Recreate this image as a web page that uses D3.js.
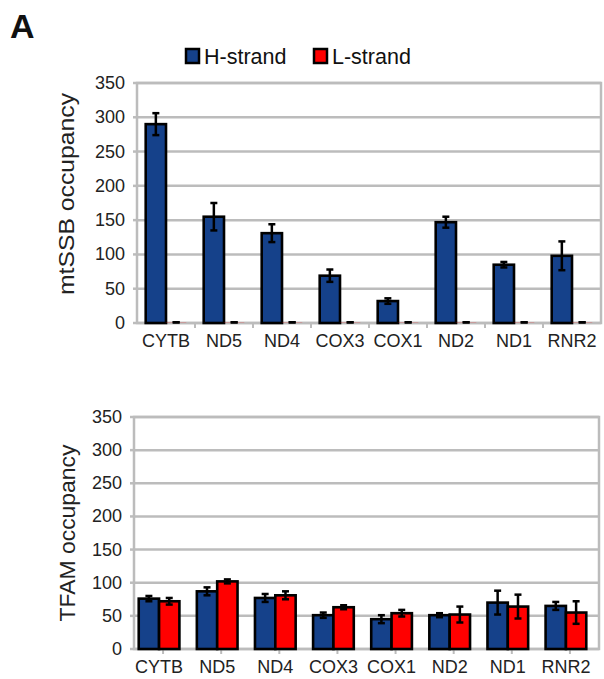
<!DOCTYPE html>
<html>
<head>
<meta charset="utf-8">
<script src="https://cdn.jsdelivr.net/npm/d3@7"></script>
<style>
  body { margin: 0; background: #fff; }
  svg { display: block; font-family: "Liberation Sans", Arial, sans-serif; }
</style>
</head>
<body>
<div id="fig"></div>
<script>
// data
const genes = ["CYTB", "ND5", "ND4", "COX3", "COX1", "ND2", "ND1", "RNR2"];
const strands = ["H-strand", "L-strand"];
const yTicks = [0, 50, 100, 150, 200, 250, 300, 350];

const ssbH = [290, 155, 131, 69, 32, 147, 85, 98];
const ssbHerr = [16, 20, 13, 9, 4, 8, 4, 21];
const ssbL = [1, 1, 1, 1, 1, 1, 1, 1];
const ssbLerr = [0, 0, 0, 0, 0, 0, 0, 0];

const tfamH = [76, 87, 77, 51, 45, 51, 70, 65];
const tfamHerr = [4, 6, 6, 4, 6, 3, 18, 6];
const tfamL = [72, 102, 81, 63, 54, 52, 64, 55];
const tfamLerr = [5, 3, 6, 3, 5, 12, 18, 17];

const colors = { "H-strand": "#15418a", "L-strand": "#ff0000" };
const gridColor = "#bcbcbc";

const svg = d3.select("#fig").append("svg")
  .attr("width", 604)
  .attr("height", 679);

// panel letter
svg.append("text")
  .attr("x", 10).attr("y", 38)
  .attr("font-size", 34).attr("font-weight", "bold")
  .attr("fill", "#111")
  .text("A");

// legend
const legend = svg.append("g");
[[185, "H-strand"], [313, "L-strand"]].forEach(([lx, s]) => {
  legend.append("rect")
    .attr("x", lx + 1).attr("y", 49).attr("width", 13).attr("height", 14)
    .attr("fill", colors[s]).attr("stroke", "#000").attr("stroke-width", 2.5);
  legend.append("text")
    .attr("x", lx + 19).attr("y", 64)
    .attr("font-size", 21.5).attr("fill", "#111")
    .text(s);
});

function panel(opts) {
  const { left, right, top, bottom, hVals, hErr, lVals, lErr, title, titleLen, shift, tickAt } = opts;
  const g = svg.append("g");

  const x = d3.scaleBand().domain(genes).range([left + shift, right + shift])
    .paddingInner(0.3).paddingOuter(0.15);
  const xs = d3.scaleBand().domain(strands).range([0, x.bandwidth()]);
  const y = d3.scaleLinear().domain([0, 350]).range([bottom, top]);

  // gridlines
  g.selectAll(".grid").data(yTicks).join("line")
    .attr("x1", left).attr("x2", right)
    .attr("y1", d => y(d)).attr("y2", d => y(d))
    .attr("stroke", gridColor).attr("stroke-width", 2.5);
  // frame
  g.append("rect")
    .attr("x", left).attr("y", top)
    .attr("width", right - left).attr("height", bottom - top)
    .attr("fill", "none").attr("stroke", gridColor).attr("stroke-width", 2.5);

  // y ticks
  g.selectAll(".yt").data(yTicks).join("line")
    .attr("x1", left - 4).attr("x2", left)
    .attr("y1", d => y(d)).attr("y2", d => y(d))
    .attr("stroke", gridColor).attr("stroke-width", 2.5);
  g.selectAll(".yl").data(yTicks).join("text")
    .attr("x", left - 12).attr("y", d => y(d) + 6)
    .attr("text-anchor", "end").attr("font-size", 18).attr("fill", "#222")
    .text(d => d);

  // x ticks
  const step = (right - left) / genes.length;
  const tickPos = tickAt === "edge"
    ? d3.range(1, genes.length).map(i => left + i * step)
    : genes.map((d, i) => left + (i + 0.5) * step);
  g.selectAll(".xt").data(tickPos).join("line")
    .attr("x1", d => d).attr("x2", d => d)
    .attr("y1", bottom).attr("y2", bottom + 5)
    .attr("stroke", gridColor).attr("stroke-width", 2);

  // x labels
  g.selectAll(".xl").data(genes).join("text")
    .attr("x", d => x(d) + x.bandwidth() / 2)
    .attr("y", bottom + 24)
    .attr("text-anchor", "middle").attr("font-size", 18).attr("fill", "#222")
    .text(d => d);

  // y title
  g.append("text")
    .attr("transform", `translate(${opts.titleX},${(top + bottom) / 2 - opts.titleOff}) rotate(-90)`)
    .attr("text-anchor", "middle").attr("font-size", 21.5).attr("fill", "#222")
    .attr("textLength", titleLen).attr("lengthAdjust", "spacingAndGlyphs")
    .text(title);

  // bars
  const rows = genes.flatMap((gene, i) => [
    { gene, s: "H-strand", v: hVals[i], e: hErr[i] },
    { gene, s: "L-strand", v: lVals[i], e: lErr[i] },
  ]);
  const cx = d => x(d.gene) + xs(d.s) + xs.bandwidth() / 2;
  g.selectAll(".bar").data(rows).join("rect")
    .attr("x", d => x(d.gene) + xs(d.s))
    .attr("y", d => y(d.v))
    .attr("width", xs.bandwidth())
    .attr("height", d => y(0) - y(d.v))
    .attr("fill", d => colors[d.s])
    .attr("opacity", d => (d.v > 3 ? 1 : 0.25))
    .attr("stroke", d => (d.v > 3 ? "#000" : "none")).attr("stroke-width", 2.6);

  // error bars (zero-error bars still show their cap as a dash)
  const eb = g.selectAll(".err").data(rows).join("g");
  eb.append("line")
    .attr("x1", cx).attr("x2", cx)
    .attr("y1", d => y(d.v + d.e)).attr("y2", d => y(d.v - d.e))
    .attr("stroke", "#000").attr("stroke-width", 2.5);
  [1, -1].forEach(sign => {
    eb.append("line")
      .attr("x1", d => cx(d) - 3.5)
      .attr("x2", d => cx(d) + 3.5)
      .attr("y1", d => y(d.v + sign * d.e)).attr("y2", d => y(d.v + sign * d.e))
      .attr("stroke", "#000").attr("stroke-width", 2.5);
  });
}

panel({
  left: 137, right: 601, top: 83, bottom: 323,
  hVals: ssbH, hErr: ssbHerr, lVals: ssbL, lErr: ssbLerr,
  title: "mtSSB  occupancy", titleLen: 202, titleX: 74, titleOff: 9,
  shift: 0, tickAt: "edge",
});

panel({
  left: 134, right: 599, top: 417, bottom: 649,
  hVals: tfamH, hErr: tfamHerr, lVals: tfamL, lErr: tfamLerr,
  title: "TFAM  occupancy", titleLen: 177, titleX: 75, titleOff: 0,
  shift: -4, tickAt: "center",
});
</script>
</body>
</html>
